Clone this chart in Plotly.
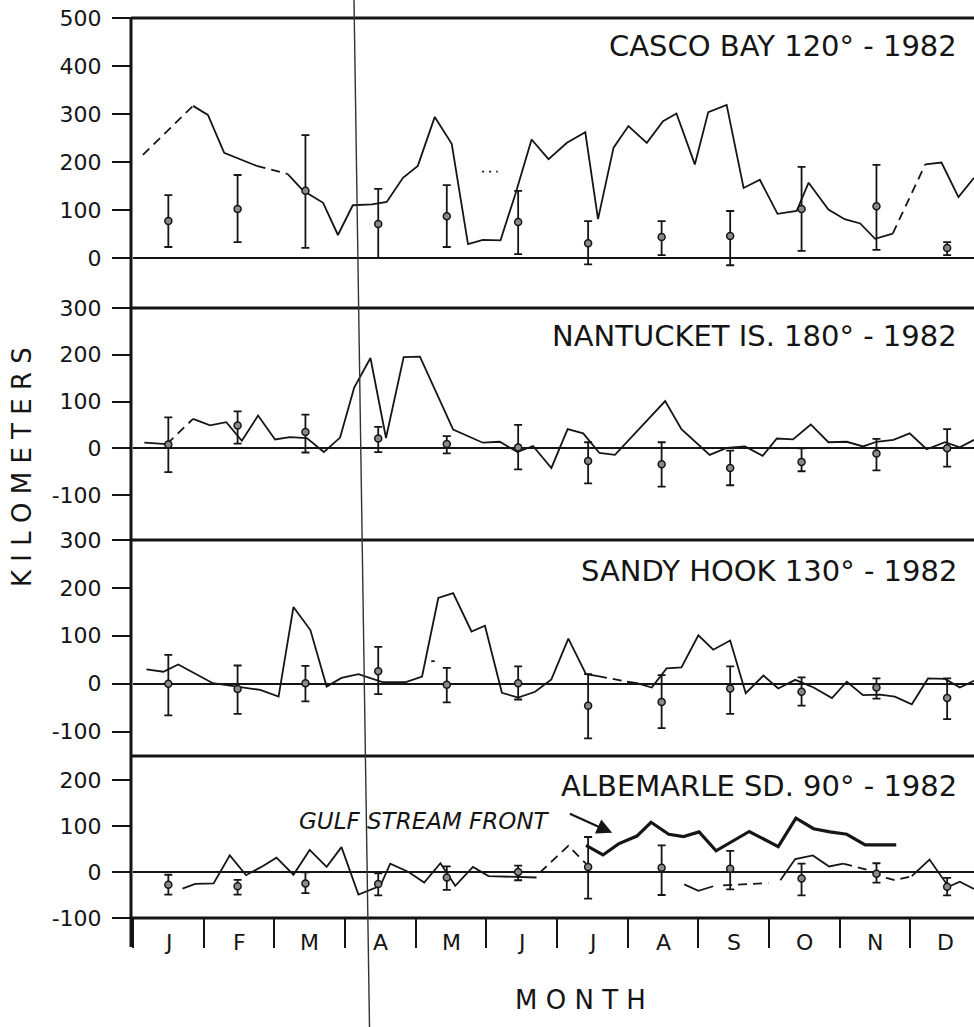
import plotly.graph_objects as go

# ---------------- data (x in months from 1 Jan, y in km) ----------------
months = ["J", "F", "M", "A", "M", "J", "J", "A", "S", "O", "N", "D"]
month_bounds = list(range(13))
err_x = [0.50, 1.48, 2.44, 3.47, 4.44, 5.45, 6.44, 7.48, 8.45, 9.46, 10.52, 11.52]

# Casco Bay
casco_x = [0.14, 0.85, 1.06, 1.29, 1.51, 1.75, 2.19, 2.41, 2.69, 2.90, 3.11, 3.38, 3.59, 3.82,
           4.03, 4.27, 4.51, 4.74, 4.95, 5.20, 5.41, 5.64, 5.88, 6.14, 6.40, 6.58, 6.80, 7.01,
           7.27, 7.50, 7.69, 7.95, 8.14, 8.40, 8.64, 8.87, 9.12, 9.39, 9.56, 9.84, 10.07, 10.29,
           10.50, 10.75, 11.21, 11.44, 11.68, 11.90]
casco_y = [215, 317, 298, 219, 206, 192, 175, 140, 115, 48, 110, 112, 117, 167,
           192, 294, 238, 29, 38, 37, 133, 247, 206, 240, 262, 81, 230, 275,
           240, 285, 301, 195, 304, 319, 146, 163, 92, 98, 157, 101, 81, 72,
           40, 51, 195, 199, 127, 167]
casco_style = ["dash"] + ["solid"] * 4 + ["dash"] + ["solid"] * 37 + ["dash"] + ["solid"] * 3
casco_dot_x = [4.94, 5.16]
casco_dot_y = [180, 180]
casco_mean = [77, 102, 140, 71, 87, 75, 31, 44, 46, 102, 108, 21]
casco_hi = [131, 173, 256, 144, 152, 140, 77, 77, 98, 190, 194, 33]
casco_lo = [23, 33, 21, 0, 23, 8, -13, 6, -15, 15, 17, 6]

# Nantucket Is.
nant_x = [0.16, 0.48, 0.85, 1.09, 1.32, 1.54, 1.77, 2.01, 2.22, 2.46, 2.70, 2.93, 3.13, 3.36,
          3.58, 3.83, 4.06, 4.53, 4.95, 5.19, 5.44, 5.66, 5.92, 6.15, 6.37, 6.60, 6.82, 7.53,
          7.76, 8.16, 8.40, 8.66, 8.91, 9.11, 9.34, 9.59, 9.84, 10.10, 10.33, 10.52, 10.76,
          10.99, 11.23, 11.49, 11.70, 11.90]
nant_y = [12, 9, 63, 49, 56, 16, 70, 19, 24, 22, -8, 23, 130, 193,
          22, 195, 196, 40, 12, 14, -8, 5, -42, 41, 32, -10, -14, 101,
          41, -14, 1, 4, -16, 21, 19, 51, 13, 14, 4, 14, 18,
          32, -2, 13, 2, 18]
nant_style = ["solid", "dash"] + ["solid"] * 43
nant_mean = [8, 49, 35, 21, 9, 2, -27, -34, -42, -29, -11, 0]
nant_hi = [66, 79, 72, 46, 26, 50, 13, 13, -5, 0, 20, 41]
nant_lo = [-51, 10, -9, -8, -11, -45, -75, -82, -79, -49, -47, -39]

# Sandy Hook
sandy_x = [0.19, 0.43, 0.64, 1.13, 1.80, 2.06, 2.27, 2.51, 2.74, 2.95, 3.19, 3.54, 3.85, 4.09,
           4.32, 4.53, 4.79, 4.98, 5.22, 5.45, 5.69, 5.92, 6.16, 6.41, 6.58, 6.99, 7.13, 7.34,
           7.48, 7.55, 7.76, 8.00, 8.21, 8.45, 8.67, 8.92, 9.13, 9.37, 9.63, 9.89, 10.10,
           10.33, 10.57, 10.78, 11.02, 11.25, 11.49, 11.70, 11.90]
sandy_y = [30, 25, 40, 1, -13, -27, 160, 112, -6, 12, 20, 3, 3, 15,
           179, 189, 109, 121, -19, -29, -17, 9, 94, 20, 16, 4, 1, -8,
           18, 32, 34, 101, 71, 90, -20, 17, -10, 8, -8, -30, 4,
           -24, -23, -27, -43, 11, 10, -8, 6]
sandy_style = ["solid"] * 24 + ["dash"] + ["solid"] * 23
sandy_mark_x = [4.22, 4.27]
sandy_mark_y = [47, 47]
sandy_mean = [0, -11, 1, 26, -2, 1, -46, -38, -10, -17, -8, -30]
sandy_hi = [60, 38, 37, 77, 33, 36, 20, 18, 36, 13, 11, 11]
sandy_lo = [-66, -63, -37, -22, -39, -33, -114, -93, -63, -46, -31, -74]

# Albemarle Sd.
alb_x = [0.70, 0.88, 1.14, 1.37, 1.60, 1.84, 2.03, 2.27, 2.50, 2.74, 2.95, 3.19, 3.50, 3.64,
         3.90, 4.12, 4.35, 4.56, 4.81, 5.03, 5.71, 5.76, 6.16, 6.41, 7.80, 8.00, 8.21, 8.35,
         8.99, 9.16, 9.37, 9.62, 9.85, 10.05, 10.38, 10.66, 10.78, 11.02, 11.27, 11.54,
         11.70, 11.90]
alb_y = [-36, -26, -25, 36, -7, 13, 31, -6, 48, 11, 54, -49, -30, 18,
         0, -23, 19, -30, 11, -9, -12, -1, 57, 18, -27, -41, -31, -29,
         -24, -18, 28, 36, 12, 18, 5, -13, -18, -9, 27, -32,
         -21, -37]
alb_style = (["solid"] * 20 + [None] + ["dash"] * 2 + [None] + ["solid"] * 2 + [None]
             + ["dash"] + [None] + ["solid"] * 4 + ["dash"] * 4 + ["solid"] * 4)
gulf_x = [6.41, 6.65, 6.87, 7.13, 7.33, 7.58, 7.79, 8.01, 8.25, 8.72, 9.13, 9.38, 9.63,
          9.86, 10.10, 10.36, 10.80]
gulf_y = [58, 37, 61, 78, 108, 82, 77, 87, 46, 88, 55, 117, 94, 87, 82, 59, 59]
alb_mean = [-28, -31, -25, -26, -12, 0, 11, 9, 7, -14, -4, -32]
alb_hi = [-6, -17, -1, -3, 12, 14, 76, 58, 46, 18, 19, -13]
alb_lo = [-49, -49, -46, -51, -39, -18, -58, -50, -38, -51, -23, -51]

titles = ["CASCO BAY 120° - 1982", "NANTUCKET IS. 180° - 1982",
          "SANDY HOOK 130° - 1982", "ALBEMARLE SD. 90° - 1982"]
tick_vals = [[0, 100, 200, 300, 400, 500], [-100, 0, 100, 200, 300],
             [-100, 0, 100, 200, 300], [-100, 0, 100, 200]]

# ---------------- figure ----------------
INK = "#151515"
FONT = "DejaVu Sans"
DASHES = {"solid": "solid", "dash": "9px,6px", "dot": "2px,5px"}


def runs(xs, ys, styles):
    out, i = [], 0
    while i < len(styles):
        s, j = styles[i], i
        while j < len(styles) and styles[j] == s:
            j += 1
        if s is not None:
            out.append((s, xs[i:j + 1], ys[i:j + 1]))
        i = j
    return out


fig = go.Figure()
panels = [
    ("y", casco_x, casco_y, casco_style, casco_mean, casco_hi, casco_lo),
    ("y2", nant_x, nant_y, nant_style, nant_mean, nant_hi, nant_lo),
    ("y3", sandy_x, sandy_y, sandy_style, sandy_mean, sandy_hi, sandy_lo),
    ("y4", alb_x, alb_y, alb_style, alb_mean, alb_hi, alb_lo),
]
for yax, xs, ys, st, mean, hi, lo in panels:
    for s, sx, sy in runs(xs, ys, st):
        fig.add_trace(go.Scatter(x=sx, y=sy, xaxis="x", yaxis=yax, mode="lines",
                                 line=dict(color=INK, width=1.8, dash=DASHES[s])))
    fig.add_trace(go.Scatter(
        x=err_x, y=mean, xaxis="x", yaxis=yax, mode="markers",
        marker=dict(symbol="circle", size=7, color="#8a8a8a", line=dict(color=INK, width=1.5)),
        error_y=dict(type="data", symmetric=False,
                     array=[h - m for h, m in zip(hi, mean)],
                     arrayminus=[m - l for m, l in zip(mean, lo)],
                     color=INK, thickness=1.8, width=4)))

fig.add_trace(go.Scatter(x=casco_dot_x, y=casco_dot_y, xaxis="x", yaxis="y", mode="lines",
                         line=dict(color=INK, width=1.8, dash=DASHES["dot"])))
fig.add_trace(go.Scatter(x=sandy_mark_x, y=sandy_mark_y, xaxis="x", yaxis="y3", mode="lines",
                         line=dict(color=INK, width=1.8)))
fig.add_trace(go.Scatter(x=gulf_x, y=gulf_y, xaxis="x", yaxis="y4", mode="lines",
                         line=dict(color=INK, width=3.2)))

domains = [[0.6778, 1.0], [0.42, 0.6778], [0.18, 0.42], [0.0, 0.18]]
ranges = [[-104, 500], [-196, 300], [-151, 300], [-100, 252]]


def yaxis_cfg(k):
    return dict(domain=domains[k], range=ranges[k], anchor="x",
                tickvals=tick_vals[k], ticktext=[str(v) for v in tick_vals[k]],
                ticks="outside", ticklen=20, tickwidth=2, tickcolor=INK,
                ticklabelstandoff=6, tickfont=dict(family=FONT, size=22, color=INK),
                showgrid=False, showline=False,
                zeroline=True, zerolinecolor=INK, zerolinewidth=1.6, fixedrange=True)


layout = dict(
    width=974, height=1027, showlegend=False,
    margin=dict(l=133, r=0, t=18, b=109),
    paper_bgcolor="white", plot_bgcolor="white",
    xaxis=dict(domain=[0, 1], range=[0, 11.9], anchor="y4", tickvals=month_bounds,
               ticks="outside", ticklen=29, tickwidth=2, tickcolor=INK,
               showticklabels=False, showgrid=False, zeroline=False, showline=False,
               fixedrange=True),
)
layout["yaxis"] = yaxis_cfg(0)
for k in range(1, 4):
    layout[f"yaxis{k + 1}"] = yaxis_cfg(k)
fig.update_layout(**layout)


def py(p):  # pixel row -> paper y
    return (918 - p) / 900


def px(p):  # pixel column -> paper x
    return (p - 133) / 841


shapes = []
for row in [18, 308, 540, 756, 918]:
    shapes.append(dict(type="line", xref="paper", yref="paper", x0=px(131), x1=1.0,
                       y0=py(row), y1=py(row), line=dict(color=INK, width=3)))
shapes.append(dict(type="line", xref="paper", yref="paper", x0=px(131), x1=px(131),
                   y0=py(947), y1=py(17), line=dict(color=INK, width=3)))
shapes.append(dict(type="line", xref="paper", yref="paper", x0=px(354), x1=px(369.5),
                   y0=py(0), y1=py(1027), line=dict(color="#333", width=1.4)))
fig.update_layout(shapes=shapes)

ann = []
title_rows = [46, 336, 571, 786]
for t, r in zip(titles, title_rows):
    ann.append(dict(text=t, xref="paper", yref="paper", x=px(959), y=py(r), xanchor="right",
                    yanchor="middle", showarrow=False,
                    font=dict(family=FONT, size=29, color=INK)))
for i, m in enumerate(months):
    ann.append(dict(text=m, xref="x", yref="paper", x=i + 0.5, y=py(943), xanchor="center",
                    yanchor="middle", showarrow=False,
                    font=dict(family=FONT, size=22, color=INK)))
ann.append(dict(text="K I L O M E T E R S", xref="paper", yref="paper", x=px(22), y=py(467),
                textangle=-90, showarrow=False, xanchor="center", yanchor="middle",
                font=dict(family=FONT, size=26, color=INK)))
ann.append(dict(text="M O N T H", xref="paper", yref="paper", x=px(580), y=py(1000),
                showarrow=False, xanchor="center", yanchor="middle",
                font=dict(family=FONT, size=26, color=INK)))
ann.append(dict(text="<i>GULF STREAM FRONT</i>", xref="paper", yref="paper", x=px(424),
                y=py(821), showarrow=False, xanchor="center", yanchor="middle",
                font=dict(family=FONT, size=23, color=INK)))
ann.append(dict(text="", xref="x", yref="y4", x=6.78, y=85, axref="x", ayref="y4",
                ax=6.16, ay=128, showarrow=True, arrowhead=2, arrowsize=1.4,
                arrowwidth=2.2, arrowcolor=INK))
fig.update_layout(annotations=ann)

fig.write_html("out.html", config={"displayModeBar": False},
               post_script="document.body.style.margin='0px';"
                           "document.body.style.overflow='hidden';")
